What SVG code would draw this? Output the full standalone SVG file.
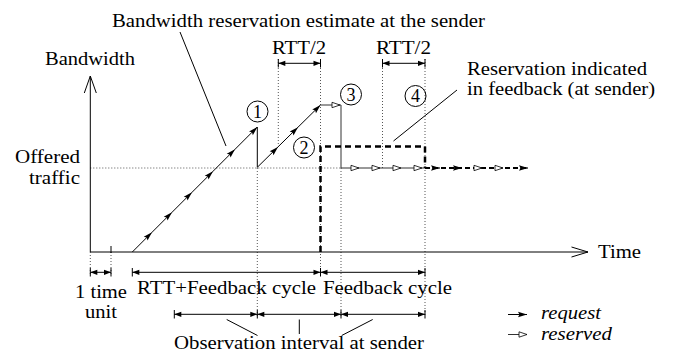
<svg xmlns="http://www.w3.org/2000/svg" width="673" height="354" viewBox="0 0 673 354">
<style>
text{font-family:"Liberation Serif","DejaVu Serif","Times New Roman",serif;font-size:18px;fill:#000}
.it{font-style:italic}
.ln{fill:none;stroke:#000;stroke-width:1}
.dot{fill:none;stroke:#555;stroke-width:1;stroke-dasharray:1,2}
.res{fill:none;stroke:#333;stroke-width:1}
.dash{fill:none;stroke:#000;stroke-width:2.5;stroke-dasharray:6,4}
.dash2{fill:none;stroke:#000;stroke-width:2;stroke-dasharray:5,3}
.dim{fill:none;stroke:#000;stroke-width:1;marker-start:url(#da);marker-end:url(#da)}
.num{font-size:18px;text-anchor:middle}
</style>
<defs>
<marker id="req" markerUnits="userSpaceOnUse" markerWidth="12" markerHeight="8" viewBox="-10 -4 12 8" refX="0" refY="0" orient="auto" overflow="visible"><path d="M0,0 L-9,-2.7 L-7.5,0 L-9,2.7 z" fill="#000"/></marker>
<marker id="res" markerUnits="userSpaceOnUse" markerWidth="12" markerHeight="8" viewBox="-10 -4 12 8" refX="0" refY="0" orient="auto" overflow="visible"><path d="M0,0 L-8,-2.7 L-8,2.7 z" fill="#fff" stroke="#000" stroke-width="0.8"/></marker>
<marker id="da" markerUnits="userSpaceOnUse" markerWidth="10" markerHeight="8" viewBox="-8 -4 10 8" refX="0" refY="0" orient="auto-start-reverse" overflow="visible"><path d="M0,0 L-7,-2.6 L-7,2.6 z" fill="#000"/></marker>
</defs>

<g id="guides">
<path class="dot" d="M90.3,168 H341"/>
<path class="dot" d="M257.3,168 V316"/>
<path class="dot" d="M278.3,59 V146"/>
<path class="dot" d="M320.5,59 V272"/>
<path class="dot" d="M341,168 V316"/>
<path class="dot" d="M382.5,59 V168"/>
<path class="dot" d="M425,59 V316"/>
<path class="dot" d="M90.3,252 V276"/>
<path class="dot" d="M111,252 V276"/>
</g>

<g id="axes">
<path class="ln" d="M90.3,252 V76"/>
<path class="ln" d="M84.3,93 L90.3,76 L96.3,93"/>
<path class="ln" d="M90.3,252 H588"/>
<path class="ln" d="M571.5,247 L588,252 L571.5,257"/>
<path class="ln" d="M111,246 V253"/>
</g>

<g id="connectors">
<polyline class="ln" points="132.3,252 152,232.3 172,212.3 192,192.3 213,171.3 235,149.3 257.3,127" marker-mid="url(#req)" marker-end="url(#req)"/>
<path class="ln" d="M257.3,127 V167.3"/>
<polyline class="ln" points="257.3,167.3 278,146.9 298,127.2 320.5,105" marker-mid="url(#req)" marker-end="url(#req)"/>
<path class="res" d="M320.5,105 H340" marker-end="url(#res)"/>
<path class="res" d="M340,105 H341 V168"/>
<polyline class="res" points="341,168 359,168 380,168 401,168 422,168" marker-mid="url(#res)" marker-end="url(#res)"/>
<path class="res" d="M422,168 H425"/>
<path class="dash2" d="M425,168 H528"/>
<path class="ln" d="M432,168 H440" stroke="none" marker-end="url(#req)"/>
<path class="ln" d="M454,168 H462" stroke="none" marker-end="url(#req)"/>
<path class="ln" d="M474,168 H482" stroke="none" marker-end="url(#res)"/>
<path class="ln" d="M495,168 H503" stroke="none" marker-end="url(#res)"/>
<path class="ln" d="M520,168 H528" stroke="none" marker-end="url(#req)"/>
<path class="dash" d="M320.5,252 V146.5 H425 V168"/>
<path class="ln" d="M180,32 L226,146"/>
<path class="ln" d="M457,90 L393.5,141"/>
<path class="ln" d="M226.7,319.5 L257.5,335.5"/>
<path class="ln" d="M299.3,319.5 V334"/>
<path class="ln" d="M372.7,319.5 L341.7,335.5"/>
</g>

<g id="dimensions">
<path class="dim" d="M278.3,63.3 H320.5"/>
<path class="dim" d="M382.5,63.3 H425"/>
<path class="ln" d="M278.3,59 V67.5 M320.5,59 V67.5 M382.5,59 V67.5 M425,59 V67.5"/>
<path class="dim" d="M90.3,272.3 H111"/>
<path class="dim" d="M132.3,272.3 H320.5"/>
<path class="dim" d="M320.5,272.3 H425"/>
<path class="ln" d="M90.3,268 V276.5 M111,268 V276.5 M132.3,268 V276.5 M320.5,268 V276.5 M425,268 V276.5"/>
<path class="dim" d="M174.3,314.3 H257.3"/>
<path class="dim" d="M257.3,314.3 H341"/>
<path class="dim" d="M341,314.3 H425"/>
<path class="ln" d="M174.3,310 V318.5 M257.3,310 V318.5 M341,310 V318.5 M425,310 V318.5"/>
</g>

<g id="markers">
<g id="m1"><circle class="ln" cx="257.5" cy="111.5" r="10.5"/><text class="num" x="257.5" y="117.8">1</text></g>
<g id="m2"><circle class="ln" cx="304" cy="147.5" r="10.5"/><text class="num" x="304" y="153.8">2</text></g>
<g id="m3"><circle class="ln" cx="351" cy="94.5" r="10.5"/><text class="num" x="351" y="100.8">3</text></g>
<g id="m4"><circle class="ln" cx="415.5" cy="96" r="10.5"/><text class="num" x="415.5" y="102.3">4</text></g>
</g>

<g id="labels" font-family="Liberation Serif, DejaVu Serif, serif">
<text x="112" y="27" textLength="373" lengthAdjust="spacingAndGlyphs">Bandwidth reservation estimate at the sender</text>
<text x="45" y="65" textLength="90" lengthAdjust="spacingAndGlyphs">Bandwidth</text>
<text x="272" y="54" textLength="54" lengthAdjust="spacingAndGlyphs">RTT/2</text>
<text x="376" y="54" textLength="55" lengthAdjust="spacingAndGlyphs">RTT/2</text>
<text x="467" y="75" textLength="180" lengthAdjust="spacingAndGlyphs">Reservation indicated</text>
<text x="467" y="94.5" textLength="188" lengthAdjust="spacingAndGlyphs">in feedback (at sender)</text>
<text x="15" y="163" textLength="65" lengthAdjust="spacingAndGlyphs">Offered</text>
<text x="29" y="184" textLength="51" lengthAdjust="spacingAndGlyphs">traffic</text>
<text x="598" y="257.5" textLength="43" lengthAdjust="spacingAndGlyphs">Time</text>
<text x="75" y="298" textLength="52" lengthAdjust="spacingAndGlyphs">1 time</text>
<text x="85" y="318" textLength="32" lengthAdjust="spacingAndGlyphs">unit</text>
<text x="137" y="293.5" textLength="179" lengthAdjust="spacingAndGlyphs">RTT+Feedback cycle</text>
<text x="323" y="293.5" textLength="129" lengthAdjust="spacingAndGlyphs">Feedback cycle</text>
<text x="174" y="349" textLength="250" lengthAdjust="spacingAndGlyphs">Observation interval at sender</text>
</g>

<g id="legend">
<path class="ln" d="M508,314.5 H527" marker-end="url(#req)"/>
<path class="res" d="M508,334.5 H527" marker-end="url(#res)"/>
<text class="it" x="541" y="319" textLength="60" lengthAdjust="spacingAndGlyphs">request</text>
<text class="it" x="541" y="339.5" textLength="71" lengthAdjust="spacingAndGlyphs">reserved</text>
</g>
</svg>
